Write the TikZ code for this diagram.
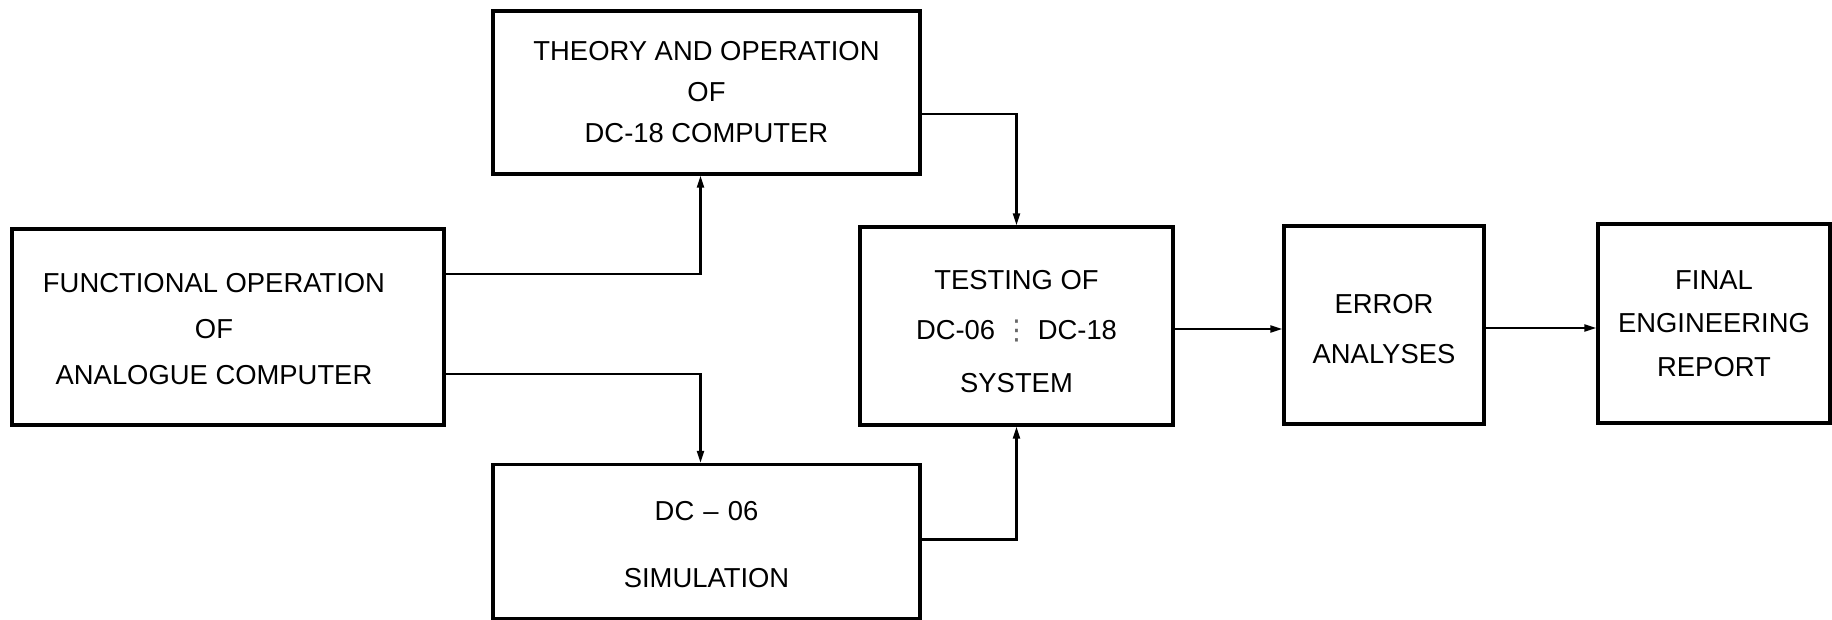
\documentclass[tikz,border=0pt]{standalone}
\usepackage{fontspec}
\setmainfont{Liberation Sans}
\newfontfamily\sepfont{DejaVu Sans}
\usetikzlibrary{arrows.meta}
\tikzset{
  block/.style n args={3}{draw, line width=1.6pt, inner sep=0pt, align=center,
    minimum width=#1, minimum height=#2,
    font=\fontsize{13.7pt}{#3}\selectfont},
  lettering/.style={inner sep=0pt, align=center,
    font=\fontsize{13.7pt}{#1}\selectfont},
  conn/.style={line width=1.2pt, -{Triangle[length=6pt,width=3.4pt]}},
}
\begin{document}
\begin{tikzpicture}[x=0.5pt,y=-0.5pt]
  \useasboundingbox (0,0) rectangle (1832,620);

  % blocks (centres in px, sizes in pt)
  \node[block={213.5pt}{81.5pt}{20.5pt}] (theory) at (706.5,92.5)
    {THEORY AND OPERATION\\OF\\DC-18 COMPUTER};
  \node[block={216pt}{98pt}{23pt}] (func) at (228,327) {};
  \node[lettering=23pt] (functext) at ([xshift=-7pt,yshift=-1pt]func.center)
    {FUNCTIONAL OPERATION\\OF\\ANALOGUE COMPUTER};
  \node[block={213.5pt}{77pt}{33.5pt}] (sim) at (706.5,541.5) {};
  \node[lettering=33.5pt] (simtext) at ([yshift=-1.5pt]sim.center)
    {DC\,\,--\,\,06\\SIMULATION};
  \node[block={156.5pt}{99pt}{25pt}] (test) at (1016.5,326) {};
  \node[lettering=25pt] (testtext) at ([yshift=-3pt]test.center)
    {TESTING OF\\DC-06 {\sepfont\color{black!60}⋮} DC-18\\[1.5pt]SYSTEM};
  \node[block={100pt}{99pt}{25pt}] (err) at (1384,325) {};
  \node[lettering=25pt] (errtext) at ([yshift=-2pt]err.center)
    {ERROR\\ANALYSES};
  \node[block={116pt}{99.5pt}{21.75pt}] (final) at (1714,323.5)
    {FINAL\\ENGINEERING\\REPORT};

  % connectors
  \draw[conn] ([yshift=26.5pt]func.east) -| ([xshift=-3pt]theory.south);
  \draw[conn] ([yshift=-23.5pt]func.east) -| ([xshift=-3pt]sim.north);
  \draw[conn] ([yshift=-10.75pt]theory.east) -| (test.north);
  \draw[conn] ([yshift=1pt]sim.east) -| (test.south);
  \draw[conn] ([yshift=-1.5pt]test.east) -- ([yshift=-1.5pt]test.east -| err.west);
  \draw[conn] ([yshift=-1.5pt]err.east) -- ([yshift=-1.5pt]err.east -| final.west);
\end{tikzpicture}
\end{document}
